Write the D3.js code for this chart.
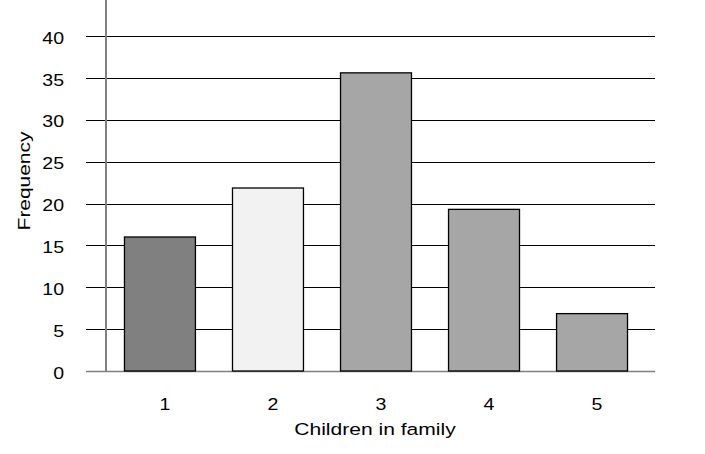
<!DOCTYPE html>
<html><head><meta charset="utf-8">
<script src="https://cdn.jsdelivr.net/npm/d3@7"></script>
<style>body{margin:0;background:#fff}svg{display:block}text{font-family:"Liberation Sans",Arial,sans-serif;fill:#000}</style>
</head><body><svg id="c" width="705" height="454"></svg>
<script>
const categories = ["1","2","3","4","5"];
const frequencies = [16, 21.85, 35.6, 19.3, 6.85];
const barColors = ["#808080","#f2f2f2","#a6a6a6","#a6a6a6","#a6a6a6"];
const yTicks = [0,5,10,15,20,25,30,35,40];

const svg = d3.select("#c");
const x = d3.scaleBand().domain(categories).range([106,646]).paddingInner(0.343).paddingOuter(0.171);
const y = d3.scaleLinear().domain([0,40]).range([371,36]);

// gridlines
svg.append("g").selectAll("line").data(yTicks).join("line")
  .attr("x1",86).attr("x2",655)
  .attr("y1",d=>Math.round(y(d))+0.5).attr("y2",d=>Math.round(y(d))+0.5)
  .attr("stroke",d=>d===0?"#808080":"#000").attr("stroke-width",d=>d===0?1.5:1);

// y labels
svg.append("g").selectAll("text").data(yTicks).join("text")
  .attr("transform",d=>`translate(64,${y(d)+1.5}) scale(1.15,1)`).attr("dy","0.36em")
  .attr("text-anchor","end").attr("font-size",17).text(d=>d);

// bars
svg.append("g").selectAll("rect").data(categories).join("rect")
  .attr("x",d=>x(d)).attr("width",x.bandwidth())
  .attr("y",(d,i)=>y(frequencies[i])).attr("height",(d,i)=>y(0)-y(frequencies[i]))
  .attr("fill",(d,i)=>barColors[i]).attr("stroke","#000").attr("stroke-width",1.3);

// y axis line
svg.append("line").attr("x1",106).attr("x2",106).attr("y1",0).attr("y2",372)
  .attr("stroke","#808080").attr("stroke-width",2);

// x labels
svg.append("g").selectAll("text").data(categories).join("text")
  .attr("transform",d=>`translate(${x(d)+x.bandwidth()/2+5},410) scale(1.15,1)`)
  .attr("text-anchor","middle").attr("font-size",17).text(d=>d);

svg.append("text").attr("transform","translate(375,435) scale(1.24,1)").attr("text-anchor","middle")
  .attr("font-size",17).text("Children in family");
svg.append("text").attr("transform","translate(30,181) rotate(-90) scale(1.23,1)")
  .attr("text-anchor","middle").attr("font-size",17).text("Frequency");
</script></body></html>
